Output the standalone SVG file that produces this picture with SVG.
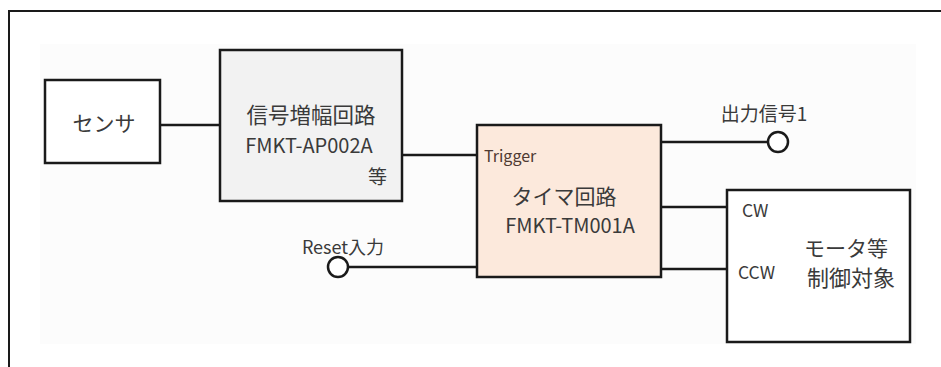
<svg xmlns="http://www.w3.org/2000/svg" width="941" height="367" viewBox="0 0 941 367">
<style>
.box{stroke:#1a1a1a;stroke-width:2.5}
.ln{stroke:#1a1a1a;stroke-width:2.5;fill:none}
.t{font-family:"Noto Sans CJK JP","Noto Sans",sans-serif;fill:#3a3a3a}
</style>
<rect x="0" y="0" width="941" height="367" fill="#fff"/>
<rect x="40" y="44" width="876" height="300" fill="#fcfcfc"/>
<path d="M9 368 V11 H942" fill="none" stroke="#1a1a1a" stroke-width="2"/>
<g id="connectors">
<line class="ln" x1="160" y1="125" x2="220" y2="125"/>
<line class="ln" x1="402" y1="155" x2="477" y2="155"/>
<line class="ln" x1="661" y1="142" x2="768" y2="142"/>
<line class="ln" x1="661" y1="207" x2="727" y2="207"/>
<line class="ln" x1="661" y1="269" x2="727" y2="269"/>
<line class="ln" x1="348" y1="267" x2="477" y2="267"/>
</g>
<g id="sensor">
<rect class="box" x="45" y="80" width="115" height="83" fill="#fff"/>
<text class="t" x="104" y="131" font-size="21" text-anchor="middle">センサ</text>
</g>
<g id="amp">
<rect class="box" x="220" y="50" width="182" height="151" fill="#f2f2f2"/>
<text class="t" x="311" y="123" font-size="21.5" text-anchor="middle">信号増幅回路</text>
<text class="t" x="309" y="153" font-size="20" text-anchor="middle">FMKT-AP002A</text>
<text class="t" x="387" y="184" font-size="19" text-anchor="end">等</text>
</g>
<g id="timer">
<rect class="box" x="477" y="125" width="184" height="152" fill="#fce9dc"/>
<text x="484" y="162" font-size="16" font-family="Noto Sans CJK JP,Noto Sans,sans-serif" fill="#4f3a32">Trigger</text>
<text class="t" x="564" y="204" font-size="21" text-anchor="middle">タイマ回路</text>
<text class="t" x="570" y="233" font-size="20" text-anchor="middle">FMKT-TM001A</text>
</g>
<g id="out1">
<circle cx="778" cy="142" r="10" fill="#fff" stroke="#1a1a1a" stroke-width="2.5"/>
<text class="t" x="764" y="121" font-size="19" text-anchor="middle">出力信号1</text>
</g>
<g id="reset">
<circle cx="338" cy="267" r="10" fill="#fff" stroke="#1a1a1a" stroke-width="2.5"/>
<text class="t" x="343" y="254" font-size="18" text-anchor="middle">Reset入力</text>
</g>
<g id="motor">
<rect class="box" x="727" y="190" width="183" height="152" fill="#fff"/>
<text class="t" x="742" y="217" font-size="17.5">CW</text>
<text class="t" x="738" y="279" font-size="17.5">CCW</text>
<text class="t" x="846" y="256" font-size="21" text-anchor="middle">モータ等</text>
<text class="t" x="851" y="286" font-size="22" text-anchor="middle">制御対象</text>
</g>
</svg>
